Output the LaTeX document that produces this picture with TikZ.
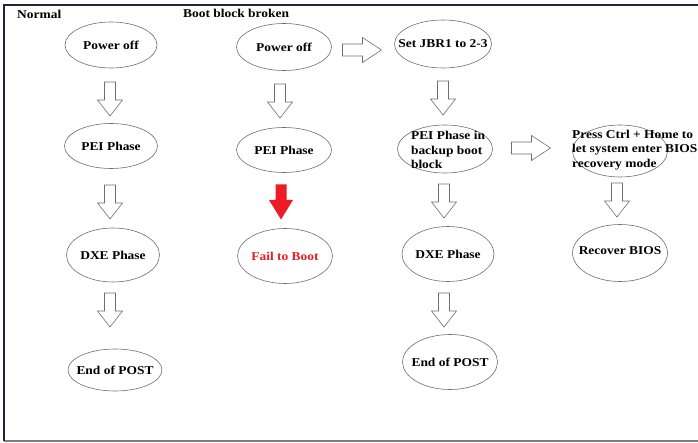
\documentclass[tikz,border=0pt]{standalone}
\usepackage{fontspec}
\setmainfont[FakeStretch=1.12]{Liberation Serif}
\usetikzlibrary{shapes.geometric,calc}
\definecolor{edgegray}{RGB}{110,110,110}
\definecolor{failred}{RGB}{237,28,36}
\definecolor{framenavy}{RGB}{35,35,60}
\definecolor{framegray}{RGB}{125,125,135}
\tikzset{
  ell/.style={ellipse,draw=edgegray,line width=0.6pt,fill=white,inner sep=0pt},
  lbl/.style={font=\bfseries\fontsize{12}{14.5}\selectfont,inner sep=0pt,align=left},
  blkline/.style={draw=edgegray,line width=0.6pt,fill=white,line join=miter},
  downblk/.pic={\path[blkline] (-5.5,-17) -- (5.5,-17) -- (5.5,1) -- (12.5,1) -- (0,17) -- (-12.5,1) -- (-5.5,1) -- cycle;},
  rightblk/.pic={\path[blkline] (-19.5,-6) -- (0.5,-6) -- (0.5,-12.5) -- (19.5,0) -- (0.5,12.5) -- (0.5,6) -- (-19.5,6) -- cycle;},
  redblk/.pic={\path[fill=failred] (-5.5,-17.5) -- (5.5,-17.5) -- (5.5,-2) -- (12,-2) -- (0,17.5) -- (-12,-2) -- (-5.5,-2) -- cycle;}
}
\begin{document}
\begin{tikzpicture}[x=1pt,y=-1pt]
\useasboundingbox (0,0) rectangle (698,443);
% frame
\coordinate (tl) at (4,5);
\coordinate (tr) at (698,5);
\coordinate (bl) at (4,441);
\coordinate (br) at (698,441);
\draw[framegray,line width=1.2pt] (bl) -- (br);
\draw[framenavy,line width=1.5pt] (tr) -- (tl) -- (bl);
% headings
\node[lbl,anchor=west] (hnormal) at (17,14) {Normal};
\node[lbl,anchor=west] (hbroken) at (183,13) {Boot block broken};
% column 1
\node[ell,minimum width=92,minimum height=46] (n1) at (111,45) {};
\node[lbl] (n1t) at (n1) {Power off};
\node[ell,minimum width=93,minimum height=45] (n2) at (111,146) {};
\node[lbl] (n2t) at (n2) {PEI Phase};
\node[ell,minimum width=93,minimum height=54] (n3) at (113,255) {};
\node[lbl] (n3t) at (n3) {DXE Phase};
\node[ell,minimum width=94,minimum height=42] (n4) at (115,370) {};
\node[lbl] (n4t) at (n4) {End of POST};
\path (110,99) pic {downblk};
\path (110,202) pic {downblk};
\path (110,310) pic {downblk};
% column 2
\node[ell,minimum width=95,minimum height=47] (b1) at (284,47) {};
\node[lbl] (b1t) at (b1) {Power off};
\node[ell,minimum width=95,minimum height=45] (b2) at (284,150) {};
\node[lbl] (b2t) at (b2) {PEI Phase};
\node[ell,minimum width=95,minimum height=55] (b3) at (285,256) {};
\node[lbl,text=failred] (b3t) at (b3) {Fail to Boot};
\path (280,101) pic {downblk};
\path (281,202) pic {redblk};
\path (362,50) pic {rightblk};
% column 3
\node[ell,minimum width=97,minimum height=48] (c1) at (443,44) {};
\node[lbl] (c1t) at (c1) {Set JBR1 to 2-3};
\node[ell,minimum width=95,minimum height=48] (c2) at (445,149) {};
\node[lbl] (c2t) at (448,150) {PEI Phase in\\backup boot\\block};
\node[ell,minimum width=92,minimum height=55] (c3) at (448,254) {};
\node[lbl] (c3t) at (c3) {DXE Phase};
\node[ell,minimum width=95,minimum height=55] (c4) at (450,362) {};
\node[lbl] (c4t) at (c4) {End of POST};
\path (443,98) pic {downblk};
\path (444,201) pic {downblk};
\path (444,310) pic {downblk};
\path (531,148) pic {rightblk};
% column 4
\node[ell,minimum width=95,minimum height=52] (d1) at (620,151) {};
\node[lbl,anchor=west] (d1t) at (572,150) {Press Ctrl + Home to\\let system enter BIOS\\recovery mode};
\node[ell,minimum width=95,minimum height=57] (d2) at (620,253) {};
\node[lbl] (d2t) at (620,251) {Recover BIOS};
\path (617,200) pic {downblk};
\end{tikzpicture}
\end{document}
